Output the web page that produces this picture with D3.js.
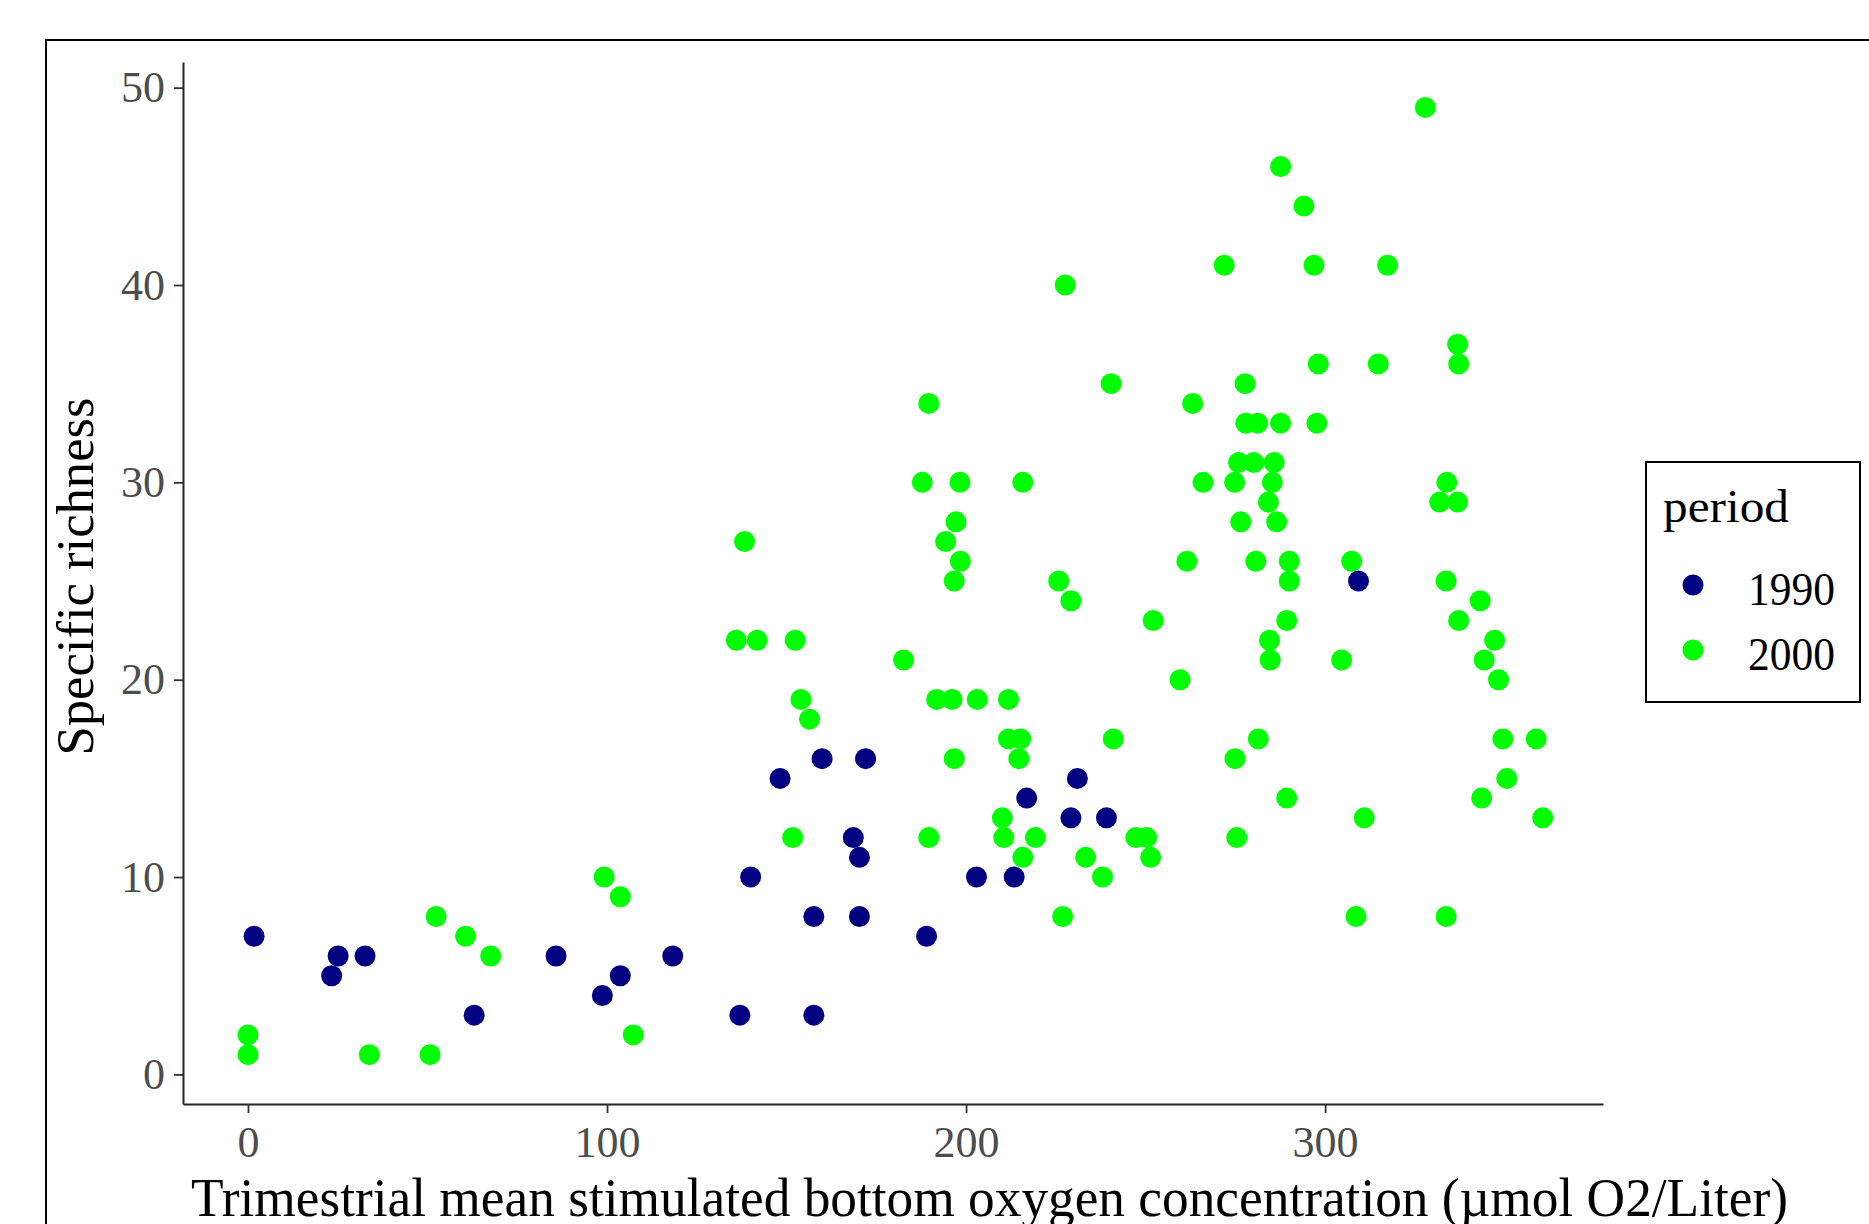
<!DOCTYPE html>
<html>
<head>
<meta charset="utf-8">
<script src="https://cdn.jsdelivr.net/npm/d3@7"></script>
<style>
  html, body { margin: 0; padding: 0; background: #fff; }
  svg { display: block; }
</style>
</head>
<body>
<svg id="chart" width="1869" height="1224"></svg>
<script>
// ---- Data ----
const periods = ["1990", "2000"];
const periodColors = ["#000080", "#00FF00"];

const oxygen1990 = [1.7, 23.3, 25.1, 32.6, 63, 85.8, 98.7, 103.7, 118.3, 137, 140, 148.2, 157.6, 157.6, 159.9, 168.6, 170.3, 170.3, 172, 189, 202.9, 213.4, 216.9, 229.2, 231, 239.1, 309.3];
const richness1990 = [7, 5, 6, 6, 3, 6, 4, 5, 6, 3, 10, 15, 8, 3, 16, 12, 11, 8, 16, 7, 10, 10, 14, 13, 15, 13, 25];

const oxygen2000 = [
  0, 0, 33.8, 50.7, 52.4, 60.6, 67.6, 99.2, 103.7, 107.3,
  136, 138.3, 141.8, 151.7, 152.4, 154, 156.4, 182.6, 187.8, 189.6,
  189.6, 191.8, 194.3, 196.1, 196.7, 196.7, 197.2, 198.3, 198.4, 203.1,
  210.1, 210.5, 211.8, 211.8, 215.2, 214.7, 215.8, 215.8, 219.3, 225.8,
  226.9, 227.6, 229.2, 233.3, 238, 240.4, 241, 247.3, 250.3, 251.4,
  252.1, 259.6, 261.5, 263.1, 266, 271.9, 274.9, 274.8, 275.4, 275.9,
  276.5, 277.7, 277.9, 281.2, 280.1, 280.7, 281.4, 284.2, 284.5, 284.7,
  285.3, 285.8, 286.5, 287.6, 287.6, 289.3, 289.3, 290, 290, 294.1,
  296.9, 297.7, 298.1, 304.6, 307.4, 308.6, 310.9, 314.8, 317.4, 327.9,
  331.9, 333.7, 333.7, 333.9, 336.9, 336.9, 337.2, 337.2, 343.2, 343.6,
  344.3, 347.2, 348.3, 349.5, 350.6, 358.8, 360.6
];
const richness2000 = [
  2, 1, 1, 1, 8, 7, 6, 10, 9, 2,
  22, 27, 22, 12, 22, 19, 18, 21, 30, 34,
  12, 19, 27, 19, 25, 16, 28, 30, 26, 19,
  13, 12, 19, 17, 17, 16, 11, 30, 12, 25,
  8, 40, 24, 11, 10, 35, 17, 12, 12, 11,
  23, 20, 26, 34, 30, 41, 16, 30, 12, 31,
  28, 35, 33, 33, 31, 26, 17, 29, 22, 21,
  30, 31, 28, 46, 33, 23, 14, 26, 25, 44,
  41, 33, 36, 21, 26, 8, 13, 36, 41, 49,
  29, 25, 8, 30, 37, 29, 36, 23, 24, 14,
  21, 22, 20, 17, 15, 17, 13
];

const xTicks = [0, 100, 200, 300];
const yTicks = [0, 10, 20, 30, 40, 50];

const xTitle = "Trimestrial mean stimulated bottom oxygen concentration (\u00B5mol O2/Liter)";
const yTitle = "Specific richness";
const legendTitle = "period";

// ---- Layout ----
const panel = { left: 183, right: 1603, top: 62, bottom: 1104 };
const fontFamily = "'Liberation Serif', 'Times New Roman', serif";
const pointR = 10.5;

const svg = d3.select("#chart");

// outer frame (cut off at right/bottom as in the reference)
svg.append("rect")
  .attr("x", 46).attr("y", 40)
  .attr("width", 1900).attr("height", 1300)
  .attr("fill", "none").attr("stroke", "#000").attr("stroke-width", 2);

const x = d3.scaleLinear().domain([-18.1, 377.4]).range([panel.left, panel.right]);
const y = d3.scaleLinear().domain([-1.5, 51.3]).range([panel.bottom, panel.top]);

// points
const data1990 = oxygen1990.map((v, i) => ({ x: v, y: richness1990[i], p: 0 }));
const data2000 = oxygen2000.map((v, i) => ({ x: v, y: richness2000[i], p: 1 }));
const allPts = data2000.concat(data1990);

svg.append("g").selectAll("circle")
  .data(allPts)
  .join("circle")
  .attr("cx", d => x(d.x))
  .attr("cy", d => y(d.y))
  .attr("r", pointR)
  .attr("fill", d => periodColors[d.p]);

// axes
const xAxis = d3.axisBottom(x).tickValues(xTicks).tickSize(9).tickSizeOuter(0).tickPadding(13);
const yAxis = d3.axisLeft(y).tickValues(yTicks).tickSize(9).tickSizeOuter(0).tickPadding(9);

const gx = svg.append("g").attr("transform", `translate(0,${panel.bottom})`).call(xAxis);
const gy = svg.append("g").attr("transform", `translate(${panel.left},0)`).call(yAxis);

[gx, gy].forEach(g => {
  g.select(".domain").attr("stroke", "#222").attr("stroke-width", 2);
  g.selectAll(".tick line").attr("stroke", "#333").attr("stroke-width", 1.8);
  g.selectAll(".tick text")
    .attr("font-family", fontFamily)
    .attr("font-size", 44)
    .attr("fill", "#4D4D4D");
});

// axis titles
svg.append("text")
  .attr("x", 191).attr("y", 1216)
  .attr("font-family", fontFamily).attr("font-size", 54)
  .attr("textLength", 1597).attr("lengthAdjust", "spacingAndGlyphs")
  .attr("fill", "#000")
  .text(xTitle);

svg.append("text")
  .attr("transform", `translate(93,${(397 + 756) / 2}) rotate(-90)`)
  .attr("text-anchor", "middle")
  .attr("font-family", fontFamily).attr("font-size", 52)
  .attr("textLength", 358).attr("lengthAdjust", "spacingAndGlyphs")
  .attr("fill", "#000")
  .text(yTitle);

// legend
const lg = svg.append("g");
lg.append("rect")
  .attr("x", 1646).attr("y", 462).attr("width", 214).attr("height", 240)
  .attr("fill", "#fff").attr("stroke", "#000").attr("stroke-width", 2);
lg.append("text")
  .attr("x", 1663).attr("y", 522)
  .attr("font-family", fontFamily).attr("font-size", 46)
  .attr("textLength", 126).attr("lengthAdjust", "spacingAndGlyphs")
  .text(legendTitle);
const keyY = [585, 650];
periods.forEach((p, i) => {
  lg.append("circle").attr("cx", 1693).attr("cy", keyY[i]).attr("r", pointR).attr("fill", periodColors[i]);
  lg.append("text")
    .attr("x", 1748).attr("y", keyY[i] + 20)
    .attr("font-family", fontFamily).attr("font-size", 46)
    .attr("textLength", 87).attr("lengthAdjust", "spacingAndGlyphs")
    .text(p);
});
</script>
</body>
</html>
